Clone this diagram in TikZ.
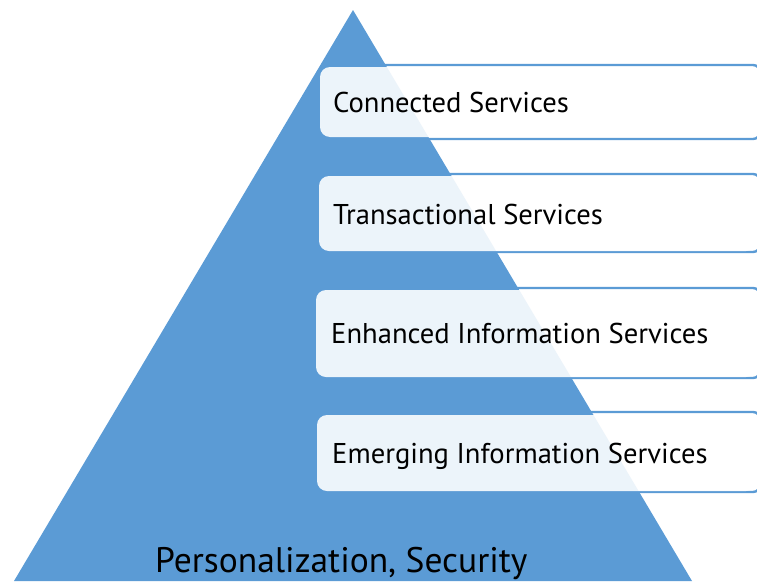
\documentclass[tikz,border=0pt]{standalone}
\usepackage{fontspec}
\setmainfont{PT Sans}
\definecolor{pyrblue}{HTML}{5B9BD5}
\begin{document}
\begin{tikzpicture}[x=1pt,y=-1pt,
  backbox/.style={draw=pyrblue, line width=2.4pt, fill=white, rounded corners=7pt},
  frontbox/.style={fill=white, fill opacity=0.89, draw=none, rounded corners=10pt},
  itemtext/.style={anchor=base west, inner sep=0pt, font=\fontsize{28.6}{32}\selectfont, text=black},
  basetext/.style={anchor=base west, inner sep=0pt, font=\fontsize{35.5}{40}\selectfont, text=black}]
\useasboundingbox (0,0) rectangle (757,581);
\begin{scope}
\clip (0,0) rectangle (757,581);
% back boxes
\draw[backbox] (360,65) rectangle (760,139);
\draw[backbox] (360,174) rectangle (760,252);
\draw[backbox] (360,288) rectangle (760,378);
\draw[backbox] (360,412) rectangle (760,492);
% triangle
\fill[pyrblue] (353,10) -- (692,581) -- (14,581) -- cycle;
% front boxes
\fill[frontbox] (320,67) rectangle (756,137);
\fill[frontbox] (319,176) rectangle (756,251);
\fill[frontbox] (316,290) rectangle (756,377);
\fill[frontbox] (317,415) rectangle (756,491);
\end{scope}
\node[itemtext] (t1) at (333,112) {Connected Services};
\node[itemtext] (t2) at (333,224) {Transactional Services};
\node[itemtext] (t3) at (331,343) {Enhanced Information Services};
\node[itemtext] (t4) at (332,463) {Emerging Information Services};
\node[basetext] (t5) at (155,572) {Personalization, Security};
\end{tikzpicture}
\end{document}
